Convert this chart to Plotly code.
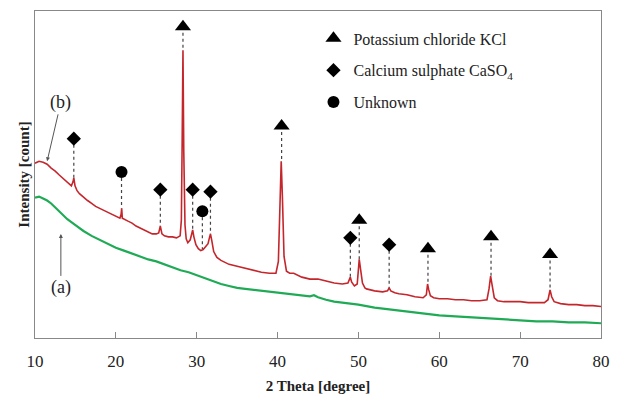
import plotly.graph_objects as go

# ---- data ----
red_x = [10, 10.5, 11, 11.5, 12, 12.5, 13, 13.5, 14, 14.5, 14.7, 14.8, 14.95, 15.2, 15.5, 16, 16.5, 17, 17.5, 18,
         18.5, 19, 19.5, 20, 20.5, 20.65, 20.72, 20.8, 21, 21.5, 22, 22.5, 23, 23.5, 24, 24.5, 25, 25.3, 25.5, 25.7,
         26, 26.5, 27, 27.5, 27.95, 28.1, 28.2, 28.3, 28.4, 28.55, 28.7, 28.9, 29.2, 29.35, 29.5, 29.65, 29.9, 30.2,
         30.5, 30.8, 31.1, 31.4, 31.6, 31.7, 31.85, 32.1, 32.5, 33, 33.5, 34, 35, 36, 37, 38, 39, 39.8, 40.1, 40.3,
         40.45, 40.6, 40.8, 41.1, 41.5, 42, 42.5, 43, 44, 45, 46, 47, 48, 48.7, 48.9, 49.0, 49.15, 49.5, 49.85, 50.0,
         50.1, 50.25, 50.5, 50.8, 51, 52, 53, 53.6, 53.8, 54.0, 54.5, 55, 56, 57, 58, 58.4, 58.55, 58.7, 58.9, 59.3,
         60, 61, 62, 63, 64, 65, 65.9, 66.15, 66.35, 66.55, 66.8, 67.2, 68, 69, 70, 71, 72, 73, 73.45, 73.7, 73.9,
         74.2, 75, 76, 77, 78, 79, 80]
red_y = [1780, 1800, 1790, 1770, 1730, 1700, 1660, 1620, 1580, 1550, 1590, 1630, 1550, 1500, 1470, 1430, 1400, 1370,
         1340, 1320, 1300, 1280, 1260, 1240, 1220, 1260, 1320, 1220, 1210, 1190, 1170, 1140, 1120, 1100, 1080, 1060,
         1060, 1070, 1140, 1060, 1040, 1030, 1030, 1020, 1040, 1200, 2000, 2930, 1900, 1150, 1010, 970, 1000, 1050,
         1100, 1030, 950, 910, 890, 900, 930, 960, 1030, 1060, 1000, 880, 820, 790, 770, 750, 730, 710, 690, 670, 660,
         660, 780, 1280, 1800, 1430, 830, 680, 660, 660, 640, 620, 600, 600, 580, 560, 550, 560, 600, 620, 570, 530,
         550, 680, 800, 710, 560, 510, 500, 480, 470, 480, 510, 480, 460, 450, 440, 420, 410, 440, 550, 490, 430, 410,
         400, 400, 390, 390, 380, 380, 390, 500, 630, 530, 410, 380, 370, 370, 370, 360, 360, 360, 390, 490, 420, 370,
         350, 340, 340, 330, 330, 320]

green_x = [10, 10.5, 11, 11.5, 12, 12.5, 13, 13.5, 14, 15, 16, 17, 18, 19, 20, 21, 22, 23, 24, 25, 26, 27, 28, 29,
           30, 31, 32, 33, 34, 35, 36, 37, 38, 39, 40, 41, 42, 43, 44, 44.5, 45, 46, 47, 48, 50, 52, 54, 56, 58, 60,
           62, 64, 66, 68, 70, 72, 74, 76, 78, 80]
green_y = [1430, 1440, 1420, 1400, 1370, 1330, 1290, 1250, 1210, 1150, 1090, 1040, 1000, 960, 920, 890, 860, 830,
           800, 780, 750, 720, 690, 670, 640, 610, 580, 550, 530, 510, 500, 490, 480, 470, 460, 450, 440, 430, 425,
           435, 415, 390, 370, 360, 340, 310, 290, 270, 250, 230, 220, 210, 200, 190, 180, 170, 170, 160, 160, 150]

kcl_x = [28.3, 40.5, 50.1, 58.6, 66.4, 73.7]
kcl_mark = [3170, 2160, 1200, 910, 1030, 850]
kcl_peak = [2930, 1800, 800, 550, 630, 490]

caso4_x = [14.8, 25.5, 29.5, 31.7, 49.0, 53.8]
caso4_mark = [2030, 1510, 1510, 1490, 1020, 950]
caso4_peak = [1630, 1140, 1100, 1060, 620, 510]

unk_x = [20.7, 30.7]
unk_mark = [1690, 1290]
unk_peak = [1320, 900]

x_ticks = [10, 20, 30, 40, 50, 60, 70, 80]

SERIF = "Liberation Serif, Times New Roman, serif"

fig = go.Figure()

# dotted guide lines
dx, dy = [], []
for xs, ms, ps in [(kcl_x, kcl_mark, kcl_peak), (caso4_x, caso4_mark, caso4_peak), (unk_x, unk_mark, unk_peak)]:
    for x, m, p in zip(xs, ms, ps):
        dx += [x, x, None]
        dy += [m, p, None]
fig.add_trace(go.Scatter(x=dx, y=dy, mode="lines", line=dict(color="#444444", width=1.2, dash="dot"),
                         showlegend=False, hoverinfo="skip"))

fig.add_trace(go.Scatter(x=green_x, y=green_y, mode="lines", line=dict(color="#1faa55", width=2.2),
                         showlegend=False, name="(a)"))
fig.add_trace(go.Scatter(x=red_x, y=red_y, mode="lines", line=dict(color="#c4262c", width=1.6),
                         showlegend=False, name="(b)"))

fig.add_trace(go.Scatter(x=kcl_x, y=kcl_mark, mode="markers", name="Potassium chloride KCl",
                         legendgroup="a", marker=dict(symbol="triangle-up", size=14, color="black")))
fig.add_trace(go.Scatter(x=caso4_x, y=caso4_mark, mode="markers", name="Calcium sulphate CaSO<sub>4</sub>",
                         legendgroup="b", marker=dict(symbol="diamond", size=11, color="black")))
fig.add_trace(go.Scatter(x=unk_x, y=unk_mark, mode="markers", name="Unknown",
                         legendgroup="c", marker=dict(symbol="circle", size=12, color="black")))

fig.add_annotation(x=11.5, y=1800, ax=13.2, ay=2400, axref="x", ayref="y", text="(b)", showarrow=True,
                   arrowhead=2, arrowsize=0.8, arrowwidth=1, arrowcolor="#555555",
                   font=dict(family=SERIF, size=18, color="#222"))
fig.add_annotation(x=13.2, y=1060, ax=13.2, ay=510, axref="x", ayref="y", text="(a)", showarrow=True,
                   arrowhead=2, arrowsize=0.8, arrowwidth=1, arrowcolor="#555555",
                   font=dict(family=SERIF, size=18, color="#222"))

fig.update_layout(
    width=620, height=402,
    margin=dict(l=35, r=11, t=10, b=59),
    paper_bgcolor="white", plot_bgcolor="white",
    font=dict(family=SERIF, color="#222"),
    legend=dict(x=0.492, y=0.968, xanchor="left", yanchor="top", font=dict(family=SERIF, size=16, color="#222"),
                tracegroupgap=8, bgcolor="rgba(0,0,0,0)"),
    xaxis=dict(range=[10, 80], tickvals=x_ticks, ticktext=[str(v) for v in x_ticks], ticks="inside",
               ticklen=6, tickcolor="#888", showline=True, linecolor="#888", linewidth=1, mirror=True,
               showgrid=False, zeroline=False, tickfont=dict(family=SERIF, size=17, color="#222"),
               ticklabelstandoff=8,
               title=dict(text="<b>2 Theta [degree]</b>", font=dict(family=SERIF, size=15, color="#222"),
                          standoff=10)),
    yaxis=dict(range=[0, 3330], showticklabels=False, ticks="", showline=True, linecolor="#888", linewidth=1,
               mirror=True, showgrid=False, zeroline=False,
               title=dict(text="<b>Intensity [count]</b>", font=dict(family=SERIF, size=15, color="#222"),
                          standoff=0)),
)

# remove the default page margin / scrolling so the figure fills the 620x402 window exactly
fig.write_html(
    "out.html",
    config={"displayModeBar": False},
    post_script=("document.body.style.margin='0px';document.body.style.overflow='hidden';"
                 "document.documentElement.style.overflow='hidden';"),
)
